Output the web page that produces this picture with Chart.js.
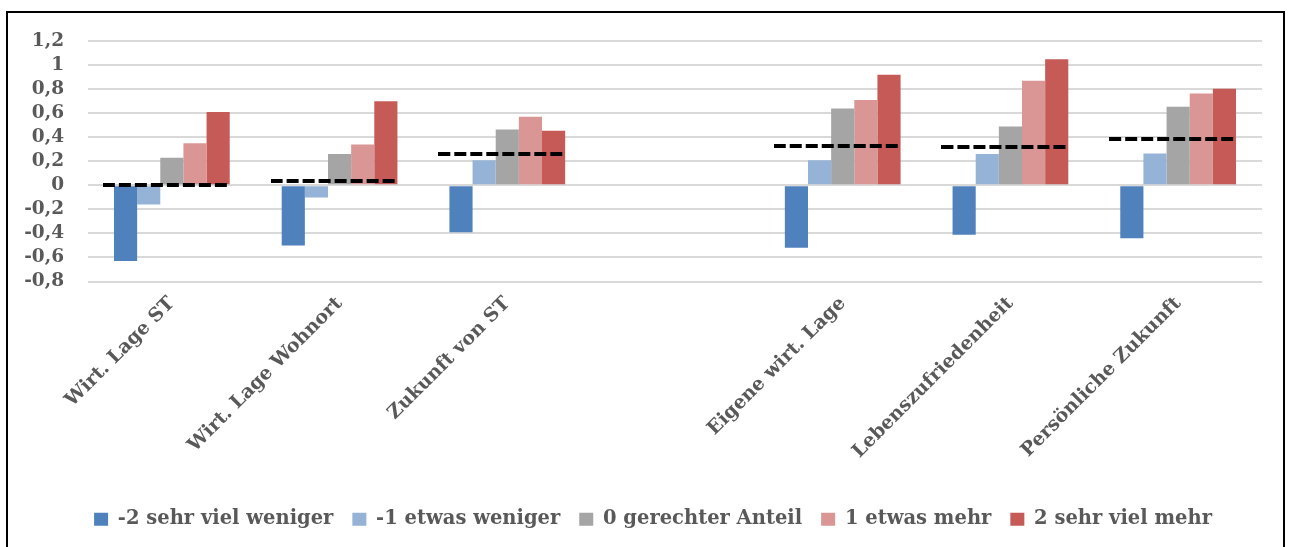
<!DOCTYPE html>
<html lang="de">
<head>
<meta charset="UTF-8">
<title>Chart</title>
<script src="https://cdn.jsdelivr.net/npm/chart.js"></script>
<style>
  body { margin: 0; background: #fff; width: 1289px; height: 547px; overflow: hidden; position: relative; }
  #frame { position: absolute; left: 6px; top: 11px; width: 1279px; height: 560px; border: 2px solid #000; box-sizing: border-box; }
  #wrap { position: absolute; left: 8px; top: 13px; width: 1277px; height: 534px; }
</style>
</head>
<body>
<div id="frame"></div>
<div id="wrap"><canvas id="myChart"></canvas></div>
<script>
  // categories (empty slot = gap in the original)
  const labels = ['Wirt. Lage ST', 'Wirt. Lage Wohnort', 'Zukunft von ST', '', 'Eigene wirt. Lage', 'Lebenszufriedenheit', 'Persönliche Zukunft'];
  const seriesNames = ['-2 sehr viel weniger', '-1 etwas weniger', '0 gerechter Anteil', '1 etwas mehr', '2 sehr viel mehr'];
  const sehrVielWeniger = [-0.63, -0.50, -0.39, null, -0.52, -0.41, -0.44];
  const etwasWeniger   = [-0.16, -0.10, 0.21, null, 0.21, 0.26, 0.265];
  const gerechterAnteil = [0.23, 0.26, 0.465, null, 0.64, 0.49, 0.655];
  const etwasMehr      = [0.35, 0.34, 0.57, null, 0.71, 0.87, 0.765];
  const sehrVielMehr   = [0.61, 0.70, 0.455, null, 0.92, 1.05, 0.805];
  // mean per category (black dashed marks)
  const mittelwert     = [0.0, 0.04, 0.26, null, 0.325, 0.32, 0.385];
  const yTicks = [-0.8, -0.6, -0.4, -0.2, 0, 0.2, 0.4, 0.6, 0.8, 1, 1.2];

  const colors = ['#4F81BD', '#95B3D7', '#A5A5A5', '#D99694', '#C55A57'];
  const values = [sehrVielWeniger, etwasWeniger, gerechterAnteil, etwasMehr, sehrVielMehr];

  // dashed marker image used as point style for the mean
  const dash = document.createElement('canvas');
  dash.width = 138;
  dash.height = 4;
  const g = dash.getContext('2d');
  g.fillStyle = '#000';
  for (let x = 0; x < 124; x += 16) g.fillRect(x, 0, 12, 4);

  // legend in the original sits a bit right of the canvas centre
  const shiftLegend = {
    id: 'shiftLegend',
    afterLayout: function(chart) {
      chart.legend.left += 14;
      chart.legend.right += 14;
    }
  };

  const serif = '"DejaVu Serif", serif';
  const datasets = values.map(function(d, i) {
    return {
      type: 'bar',
      label: seriesNames[i],
      data: d,
      backgroundColor: colors[i],
      borderWidth: 0,
      categoryPercentage: 0.69,
      barPercentage: 1.0,
      order: 2
    };
  });
  datasets.push({
    type: 'line',
    label: 'Mittelwert',
    data: mittelwert,
    showLine: false,
    pointStyle: dash,
    pointRadius: 10,
    order: 1
  });

  new Chart(document.getElementById('myChart'), {
    data: { labels: labels, datasets: datasets },
    plugins: [shiftLegend],
    options: {
      responsive: true,
      maintainAspectRatio: false,
      animation: false,
      layout: { padding: { left: 8, right: 23, top: 6, bottom: 8 } },
      plugins: {
        tooltip: { enabled: false },
        legend: {
          position: 'bottom',
          labels: {
            filter: function(item) { return item.datasetIndex < 5; },
            boxWidth: 14,
            boxHeight: 13,
            padding: 19,
            color: '#595959',
            font: { family: serif, size: 19.5, weight: 'bold' }
          }
        }
      },
      scales: {
        x: {
          grid: { display: false },
          border: { display: false },
          ticks: {
            maxRotation: 45,
            minRotation: 45,
            color: '#595959',
            font: { family: serif, size: 19, weight: 'bold' }
          },
          afterFit: function(axis) { axis.height = 209; }
        },
        y: {
          min: -0.8,
          max: 1.2,
          afterBuildTicks: function(axis) { axis.ticks = yTicks.map(function(v) { return {value: v}; }); },
          grid: { color: '#D9D9D9', lineWidth: 2, drawTicks: false },
          border: { display: false },
          ticks: {
            autoSkip: false,
            padding: 24,
            color: '#595959',
            font: { family: serif, size: 18.5, weight: 'bold', lineHeight: 0.45 },
            callback: function(v) { return String(Math.round(v * 10) / 10).replace('.', ','); }
          },
          afterFit: function(axis) { axis.width = 72; }
        }
      }
    }
  });
</script>
</body>
</html>
